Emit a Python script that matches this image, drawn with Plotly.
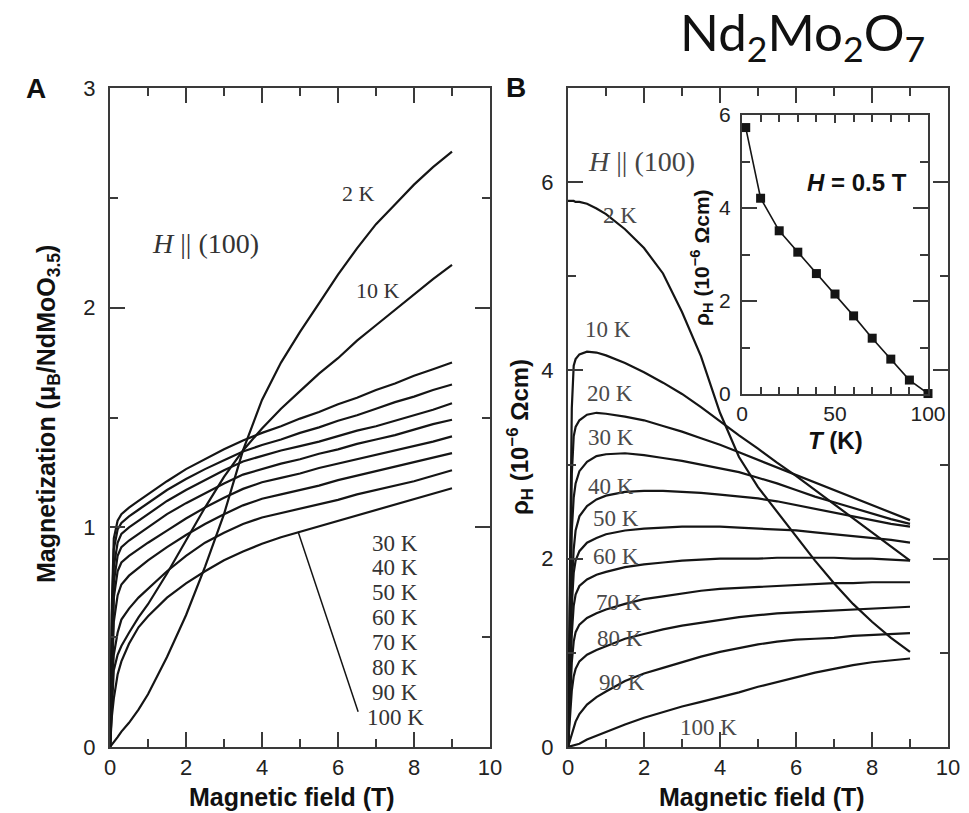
import plotly.graph_objects as go

# ---------------- Panel A: magnetization vs field ----------------
field_A = [0, 0.05, 0.1, 0.2, 0.3, 0.5, 0.75, 1, 1.5, 2, 2.5, 3, 3.5, 4, 4.5, 5, 5.5, 6, 6.5, 7, 7.5, 8, 8.5, 9]
M_2K   = [0, 0.01, 0.02, 0.045, 0.07, 0.11, 0.17, 0.24, 0.41, 0.60, 0.82, 1.06, 1.35, 1.58, 1.75, 1.89, 2.02, 2.15, 2.27, 2.38, 2.47, 2.56, 2.64, 2.71]
M_10K  = [0, 0.20, 0.35, 0.42, 0.46, 0.52, 0.59, 0.65, 0.79, 0.94, 1.09, 1.23, 1.35, 1.45, 1.54, 1.62, 1.70, 1.77, 1.85, 1.92, 1.99, 2.06, 2.13, 2.195]
M_30K  = [0, 0.65, 0.95, 1.03, 1.06, 1.09, 1.12, 1.15, 1.21, 1.265, 1.31, 1.355, 1.395, 1.43, 1.46, 1.495, 1.525, 1.56, 1.59, 1.625, 1.655, 1.69, 1.72, 1.75]
M_40K  = [0, 0.60, 0.90, 0.99, 1.02, 1.05, 1.08, 1.11, 1.17, 1.22, 1.265, 1.305, 1.345, 1.375, 1.40, 1.43, 1.455, 1.485, 1.51, 1.54, 1.57, 1.595, 1.625, 1.65]
M_50K  = [0, 0.50, 0.82, 0.93, 0.97, 1.00, 1.03, 1.06, 1.12, 1.17, 1.215, 1.26, 1.30, 1.325, 1.35, 1.37, 1.39, 1.415, 1.44, 1.46, 1.485, 1.51, 1.535, 1.565]
M_60K  = [0, 0.45, 0.75, 0.87, 0.91, 0.94, 0.97, 1.00, 1.06, 1.11, 1.155, 1.20, 1.24, 1.265, 1.29, 1.31, 1.335, 1.355, 1.38, 1.40, 1.42, 1.445, 1.47, 1.49]
M_70K  = [0, 0.40, 0.68, 0.80, 0.84, 0.87, 0.90, 0.93, 0.985, 1.04, 1.09, 1.135, 1.175, 1.205, 1.225, 1.245, 1.27, 1.29, 1.31, 1.33, 1.35, 1.37, 1.39, 1.414]
M_80K  = [0, 0.35, 0.57, 0.69, 0.74, 0.78, 0.815, 0.85, 0.91, 0.965, 1.015, 1.06, 1.10, 1.13, 1.15, 1.17, 1.19, 1.215, 1.235, 1.255, 1.275, 1.295, 1.315, 1.338]
M_90K  = [0, 0.28, 0.42, 0.52, 0.58, 0.63, 0.68, 0.72, 0.80, 0.87, 0.93, 0.975, 1.015, 1.045, 1.065, 1.085, 1.105, 1.125, 1.15, 1.17, 1.19, 1.21, 1.235, 1.26]
M_100K = [0, 0.14, 0.22, 0.33, 0.39, 0.47, 0.545, 0.595, 0.68, 0.745, 0.80, 0.85, 0.89, 0.925, 0.955, 0.98, 1.005, 1.03, 1.055, 1.08, 1.105, 1.13, 1.155, 1.178]
curves_A = [M_2K, M_10K, M_30K, M_40K, M_50K, M_60K, M_70K, M_80K, M_90K, M_100K]

labels_A_top = ["2 K", "10 K"]
labels_A_top_x = [6.53, 7.05]
labels_A_top_y = [2.52, 2.08]
labels_A_list = ["30 K", "40 K", "50 K", "60 K", "70 K", "80 K", "90 K", "100 K"]
labels_A_list_x = 7.5
labels_A_list_y = [0.927, 0.818, 0.705, 0.591, 0.477, 0.364, 0.25, 0.136]
pointer_A_x = [4.95, 6.53]
pointer_A_y = [0.98, 0.16]

# ---------------- Panel B: Hall resistivity vs field ----------------
field_B = [0, 0.05, 0.1, 0.15, 0.2, 0.3, 0.5, 0.75, 1, 1.5, 2, 2.5, 3, 3.5, 4, 4.5, 5, 5.5, 6, 6.5, 7, 7.5, 8, 8.5, 9]
rho_2K   = [5.80, 5.80, 5.80, 5.80, 5.79, 5.79, 5.77, 5.72, 5.66, 5.50, 5.30, 5.03, 4.62, 4.15, 3.55, 3.08, 2.76, 2.50, 2.25, 1.98, 1.74, 1.52, 1.33, 1.16, 1.01]
rho_10K  = [0, 1.8, 3.6, 4.05, 4.12, 4.17, 4.20, 4.19, 4.16, 4.08, 3.98, 3.87, 3.75, 3.61, 3.46, 3.31, 3.17, 3.02, 2.88, 2.73, 2.58, 2.43, 2.28, 2.13, 1.98]
rho_20K  = [0, 1.5, 2.9, 3.3, 3.4, 3.47, 3.53, 3.55, 3.54, 3.51, 3.47, 3.41, 3.35, 3.28, 3.21, 3.13, 3.05, 2.97, 2.89, 2.81, 2.73, 2.65, 2.57, 2.49, 2.41]
rho_30K  = [0, 1.2, 2.3, 2.65, 2.8, 2.93, 3.03, 3.09, 3.11, 3.12, 3.10, 3.07, 3.04, 3.00, 2.96, 2.92, 2.86, 2.80, 2.73, 2.66, 2.60, 2.54, 2.48, 2.42, 2.37]
rho_40K  = [0, 0.9, 1.7, 2.1, 2.3, 2.45, 2.56, 2.63, 2.67, 2.71, 2.72, 2.72, 2.71, 2.70, 2.68, 2.66, 2.64, 2.61, 2.57, 2.53, 2.49, 2.45, 2.41, 2.37, 2.34]
rho_50K  = [0, 0.8, 1.5, 1.85, 1.98, 2.08, 2.17, 2.22, 2.26, 2.30, 2.32, 2.33, 2.34, 2.34, 2.34, 2.33, 2.32, 2.31, 2.30, 2.28, 2.26, 2.24, 2.22, 2.20, 2.17]
rho_60K  = [0, 0.6, 1.2, 1.5, 1.62, 1.71, 1.78, 1.83, 1.86, 1.91, 1.94, 1.96, 1.98, 1.99, 2.00, 2.00, 2.00, 2.01, 2.01, 2.01, 2.01, 2.00, 2.00, 1.99, 1.98]
rho_70K  = [0, 0.45, 0.9, 1.12, 1.22, 1.30, 1.37, 1.42, 1.46, 1.52, 1.57, 1.60, 1.63, 1.66, 1.68, 1.69, 1.70, 1.71, 1.72, 1.73, 1.74, 1.74, 1.75, 1.75, 1.75]
rho_80K  = [0, 0.3, 0.6, 0.75, 0.83, 0.91, 0.98, 1.03, 1.07, 1.15, 1.20, 1.25, 1.29, 1.32, 1.35, 1.38, 1.40, 1.42, 1.43, 1.44, 1.45, 1.46, 1.47, 1.48, 1.49]
rho_90K  = [0, 0.07, 0.15, 0.21, 0.27, 0.35, 0.45, 0.53, 0.59, 0.70, 0.78, 0.84, 0.90, 0.96, 1.01, 1.05, 1.09, 1.12, 1.14, 1.15, 1.16, 1.18, 1.19, 1.20, 1.21]
rho_100K = [0, 0.005, 0.01, 0.015, 0.02, 0.035, 0.08, 0.12, 0.16, 0.24, 0.31, 0.37, 0.43, 0.48, 0.53, 0.58, 0.64, 0.69, 0.74, 0.79, 0.83, 0.87, 0.90, 0.92, 0.94]
curves_B = [rho_2K, rho_10K, rho_20K, rho_30K, rho_40K, rho_50K, rho_60K, rho_70K, rho_80K, rho_90K, rho_100K]

labels_B = ["2 K", "10 K", "20 K", "30 K", "40 K", "50 K", "60 K", "70 K", "80 K", "90 K", "100 K"]
labels_B_x = [1.37, 1.06, 1.11, 1.13, 1.14, 1.27, 1.27, 1.34, 1.37, 1.42, 3.71]
labels_B_y = [5.65, 4.44, 3.75, 3.29, 2.77, 2.43, 2.02, 1.54, 1.15, 0.69, 0.21]

# ---------------- Inset: rho_H at H = 0.5 T vs temperature ----------------
T_inset = [2, 10, 20, 30, 40, 50, 60, 70, 80, 90, 100]
rho_inset = [5.73, 4.21, 3.51, 3.05, 2.59, 2.15, 1.68, 1.20, 0.75, 0.30, 0.01]

W, H = 969, 813
OFF = 8  # page body margin
def px(x):
    return (x - OFF) / W
def py(y):
    return 1 - (y - OFF) / H

INK = '#151515'
FRAME = '#3a3a3a'
SANS = 'Liberation Sans, Arial, sans-serif'
SERIF = 'Liberation Serif, Times New Roman, serif'

fig = go.Figure()
for ys in curves_A:
    fig.add_trace(go.Scatter(x=field_A, y=ys, mode='lines', xaxis='x', yaxis='y',
                             line=dict(color=INK, width=2.2), showlegend=False, hoverinfo='skip'))
for ys in curves_B:
    fig.add_trace(go.Scatter(x=field_B, y=ys, mode='lines', xaxis='x2', yaxis='y2',
                             line=dict(color=INK, width=2.2), showlegend=False, hoverinfo='skip'))
fig.add_trace(go.Scatter(x=T_inset, y=rho_inset, mode='lines+markers', xaxis='x3', yaxis='y3',
                         line=dict(color=INK, width=1.6),
                         marker=dict(symbol='square', size=9, color=INK),
                         cliponaxis=False, showlegend=False, hoverinfo='skip'))
fig.add_trace(go.Scatter(x=pointer_A_x, y=pointer_A_y, mode='lines', xaxis='x', yaxis='y',
                         line=dict(color=INK, width=1.5), showlegend=False, hoverinfo='skip'))


def axis(domain, rng, dtick, mdtick, tlen, mlen, anchor, fsize=22, standoff=0):
    return dict(domain=domain, range=rng, anchor=anchor, showline=True, linecolor=FRAME,
                linewidth=2, mirror='ticks', ticks='inside', ticklen=tlen, tickwidth=2,
                tickcolor=FRAME, tick0=0, dtick=dtick,
                minor=dict(ticks='inside', ticklen=mlen, tickwidth=2, tickcolor=FRAME,
                           tick0=0, dtick=mdtick, showgrid=False),
                showgrid=False, zeroline=False, fixedrange=True, automargin=False,
                ticklabelstandoff=standoff,
                tickfont=dict(family=SANS, size=fsize, color='#222'))

fig.update_layout(
    width=W, height=H, margin=dict(l=0, r=0, t=0, b=0, pad=0, autoexpand=False),
    paper_bgcolor='white', plot_bgcolor='rgba(0,0,0,0)',
    xaxis=axis([px(110), px(490)], [0, 10], 2, 1, 15, 8, 'y', standoff=0),
    yaxis=axis([py(747), py(88)], [0, 3], 1, 0.5, 15, 8, 'x', standoff=8),
    xaxis2=axis([px(568), px(948)], [0, 10], 2, 1, 15, 8, 'y2', standoff=0),
    yaxis2=axis([py(747), py(88)], [0, 7], 2, 1, 15, 8, 'x2', standoff=8),
    xaxis3=axis([px(742), px(928)], [0, 100], 50, 10, 8, 7, 'y3', fsize=21, standoff=0),
    yaxis3=axis([py(394), py(115)], [0, 6], 2, 1, 15, 8, 'x3', fsize=21, standoff=5),
)

ann = []
def pann(text, x, y, size, family=SANS, angle=0, color='#111'):
    ann.append(dict(text=text, x=px(x), y=py(y), xref='paper', yref='paper', showarrow=False,
                    xanchor='center', yanchor='middle', textangle=angle,
                    font=dict(family=family, size=size, color=color)))

# panel letters
pann('<b>A</b>', 36, 88, 28)
pann('<b>B</b>', 516, 87, 28)
# title
pann('Nd<sub>2</sub>Mo<sub>2</sub>O<sub>7</sub>', 802, 36, 51, family='Lato, Noto Sans, sans-serif')
# axis titles
pann('<b>Magnetic field (T)</b>', 292, 797, 25)
pann('<b>Magnetic field (T)</b>', 762, 797, 25)
pann('<b>Magnetization (μ<sub>B</sub>/NdMoO<sub>3.5</sub>)</b>', 48, 414, 25, angle=-90)
pann('<b>ρ<sub>H</sub> (10<sup>−6</sup> Ωcm)</b>', 520, 437, 24, angle=-90)
pann('<b>ρ<sub>H</sub> (10<sup>−6</sup> Ωcm)</b>', 701, 258, 21, angle=-90)
pann('<b><i>T</i> (K)</b>', 835, 440, 24)
pann('<b><i>H</i> = 0.5 T</b>', 857, 182, 24)

def dann(text, x, y, xref, yref, size, color):
    ann.append(dict(text=text, x=x, y=y, xref=xref, yref=yref, showarrow=False,
                    xanchor='center', yanchor='middle',
                    font=dict(family=SERIF, size=size, color=color)))

# field direction labels
dann('<i>H</i> || (100)', 2.5, 2.29, 'x', 'y', 28, '#333')
dann('<i>H</i> || (100)', 1.94, 6.22, 'x2', 'y2', 28, '#444')
# temperature labels panel A
for t, x, y in zip(labels_A_top, labels_A_top_x, labels_A_top_y):
    dann(t, x, y, 'x', 'y', 22, '#333')
for t, y in zip(labels_A_list, labels_A_list_y):
    dann(t, labels_A_list_x, y, 'x', 'y', 23, '#333')
# temperature labels panel B
for t, x, y in zip(labels_B, labels_B_x, labels_B_y):
    dann(t, x, y, 'x2', 'y2', 23, '#4a4a4a')

fig.update_layout(annotations=ann)
fig.write_html('out.html')
